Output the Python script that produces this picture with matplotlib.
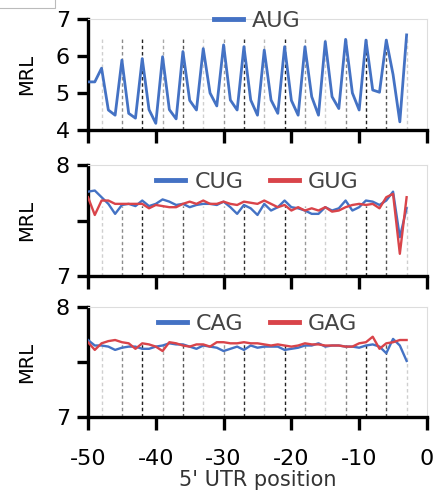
#!/usr/bin/env python3

import matplotlib.pyplot as plt
from matplotlib.patches import Rectangle
import numpy as np

positions = np.arange(-50, -2)

aug = [5.30, 5.30, 5.67, 4.54, 4.40, 5.89, 4.45, 4.32, 5.93, 4.55,
       4.18, 5.98, 4.55, 4.30, 6.12, 4.80, 4.54, 6.20, 5.00, 4.65,
       6.30, 4.81, 4.54, 6.25, 4.81, 4.40, 6.16, 4.81, 4.45, 6.25,
       4.80, 4.40, 6.25, 4.90, 4.40, 6.39, 4.90, 4.58, 6.45, 5.00,
       4.54, 6.43, 5.08, 5.02, 6.43, 5.50, 4.22, 6.57]

cug = [7.76, 7.77, 7.71, 7.65, 7.56, 7.64, 7.65, 7.63, 7.68, 7.63,
       7.65, 7.69, 7.67, 7.64, 7.65, 7.62, 7.64, 7.65, 7.65, 7.64,
       7.67, 7.62, 7.56, 7.64, 7.61, 7.55, 7.65, 7.59, 7.62, 7.68,
       7.62, 7.61, 7.59, 7.56, 7.56, 7.62, 7.59, 7.61, 7.68, 7.59,
       7.62, 7.68, 7.67, 7.64, 7.68, 7.76, 7.35, 7.61]

gug = [7.71, 7.55, 7.68, 7.68, 7.65, 7.65, 7.65, 7.65, 7.65, 7.61,
       7.64, 7.63, 7.62, 7.62, 7.65, 7.67, 7.65, 7.68, 7.65, 7.65,
       7.67, 7.65, 7.64, 7.67, 7.66, 7.65, 7.68, 7.65, 7.62, 7.64,
       7.59, 7.62, 7.59, 7.61, 7.59, 7.62, 7.58, 7.59, 7.62, 7.64,
       7.65, 7.64, 7.65, 7.61, 7.71, 7.74, 7.20, 7.71]

cag = [7.70, 7.65, 7.65, 7.64, 7.61, 7.63, 7.64, 7.64, 7.62, 7.62,
       7.64, 7.65, 7.67, 7.66, 7.66, 7.64, 7.62, 7.65, 7.64, 7.63,
       7.60, 7.62, 7.64, 7.61, 7.65, 7.63, 7.64, 7.64, 7.64, 7.61,
       7.62, 7.63, 7.65, 7.65, 7.67, 7.64, 7.65, 7.65, 7.64, 7.64,
       7.63, 7.65, 7.66, 7.64, 7.58, 7.71, 7.65, 7.51]

gag = [7.68, 7.61, 7.67, 7.69, 7.70, 7.68, 7.67, 7.62, 7.67, 7.66,
       7.64, 7.60, 7.68, 7.67, 7.65, 7.64, 7.66, 7.66, 7.64, 7.68,
       7.68, 7.67, 7.67, 7.68, 7.67, 7.67, 7.66, 7.65, 7.66, 7.65,
       7.64, 7.65, 7.67, 7.66, 7.66, 7.65, 7.65, 7.65, 7.64, 7.64,
       7.67, 7.68, 7.73, 7.62, 7.67, 7.68, 7.70, 7.70]

# in-frame positions marked with dashed lines, and their shade
frame_pos = np.arange(-48, -2, 3)
frame_shade = ['#cfcfcf', '#8c8c8c', '#222222', '#aaaaaa', '#555555', '#cfcfcf',
               '#999999', '#333333', '#bbbbbb', '#222222', '#999999', '#cfcfcf',
               '#888888', '#222222', '#555555', '#cfcfcf']

BLUE = '#4472C4'
RED = '#D9444A'


def style_axis(ax):
    for s in ['left', 'bottom']:
        ax.spines[s].set_linewidth(2.4)
        ax.spines[s].set_color('black')
    for s in ['top', 'right']:
        ax.spines[s].set_linewidth(0.8)
        ax.spines[s].set_color('#dddddd')
    ax.tick_params(axis='y', direction='out', length=8, width=2.4,
                   labelsize=16, pad=5)
    ax.tick_params(axis='x', direction='out', length=9, width=2.4,
                   labelsize=16, pad=14)
    ax.set_xlim(-50, 0)
    ax.set_xticks(np.arange(-50, 1, 10))
    ax.set_ylabel('MRL', fontsize=14, labelpad=14)


def draw_frames(ax, y0, y1):
    ax.vlines(frame_pos, y0, y1, colors=frame_shade, linestyles=(0, (2.5, 2)),
              linewidth=1.0, zorder=1)


def add_legend(ax, y, ncol):
    leg = ax.legend(loc='center', bbox_to_anchor=(0.5, y), frameon=False,
                    fontsize=16, ncol=ncol, handlelength=1.3, handletextpad=0.4,
                    columnspacing=1.2, borderpad=0)
    for t in leg.get_texts():
        t.set_color('#444444')
    for l in leg.get_lines():
        l.set_linewidth(3.5)


def main():
    fig = plt.figure(figsize=(4.37, 4.92), dpi=100)
    left, width = 0.2014, 0.7756
    ax1 = fig.add_axes([left, 0.7358, width, 0.2256])
    ax2 = fig.add_axes([left, 0.4390, width, 0.2256])
    ax3 = fig.add_axes([left, 0.1524, width, 0.2236])

    # AUG
    draw_frames(ax1, 4, 6.5)
    ax1.plot(positions, aug, color=BLUE, lw=2.0, label='AUG', zorder=3)
    ax1.set_ylim(4, 7)
    ax1.set_yticks([4, 5, 6, 7])
    style_axis(ax1)
    ax1.set_xticklabels([])
    add_legend(ax1, 0.98, 1)

    # CUG / GUG
    draw_frames(ax2, 7, 7.63)
    ax2.plot(positions, cug, color=BLUE, lw=1.7, label='CUG', zorder=3)
    ax2.plot(positions, gug, color=RED, lw=1.7, label='GUG', zorder=3)
    ax2.set_ylim(7, 8)
    ax2.set_yticks([7, 7.5, 8])
    ax2.set_yticklabels(['7', '', '8'])
    style_axis(ax2)
    ax2.set_xticklabels([])
    add_legend(ax2, 0.85, 2)

    # CAG / GAG
    draw_frames(ax3, 7, 7.68)
    ax3.plot(positions, cag, color=BLUE, lw=1.7, label='CAG', zorder=3)
    ax3.plot(positions, gag, color=RED, lw=1.7, label='GAG', zorder=3)
    ax3.set_ylim(7, 8)
    ax3.set_yticks([7, 7.5, 8])
    ax3.set_yticklabels(['7', '', '8'])
    style_axis(ax3)
    ax3.set_xticklabels(['-50', '-40', '-30', '-20', '-10', '0'])
    ax3.set_xlabel("5' UTR position", fontsize=15, color='#333333', labelpad=1)
    add_legend(ax3, 0.85, 2)

    # stray box in the top-left corner of the original image
    fig.patches.append(Rectangle((-0.01, 0.984), 0.136, 0.03,
                                 transform=fig.transFigure, fill=False,
                                 edgecolor='#bbbbbb', linewidth=0.8))

    fig.savefig('out.png', dpi=100)


if __name__ == "__main__":
    main()
